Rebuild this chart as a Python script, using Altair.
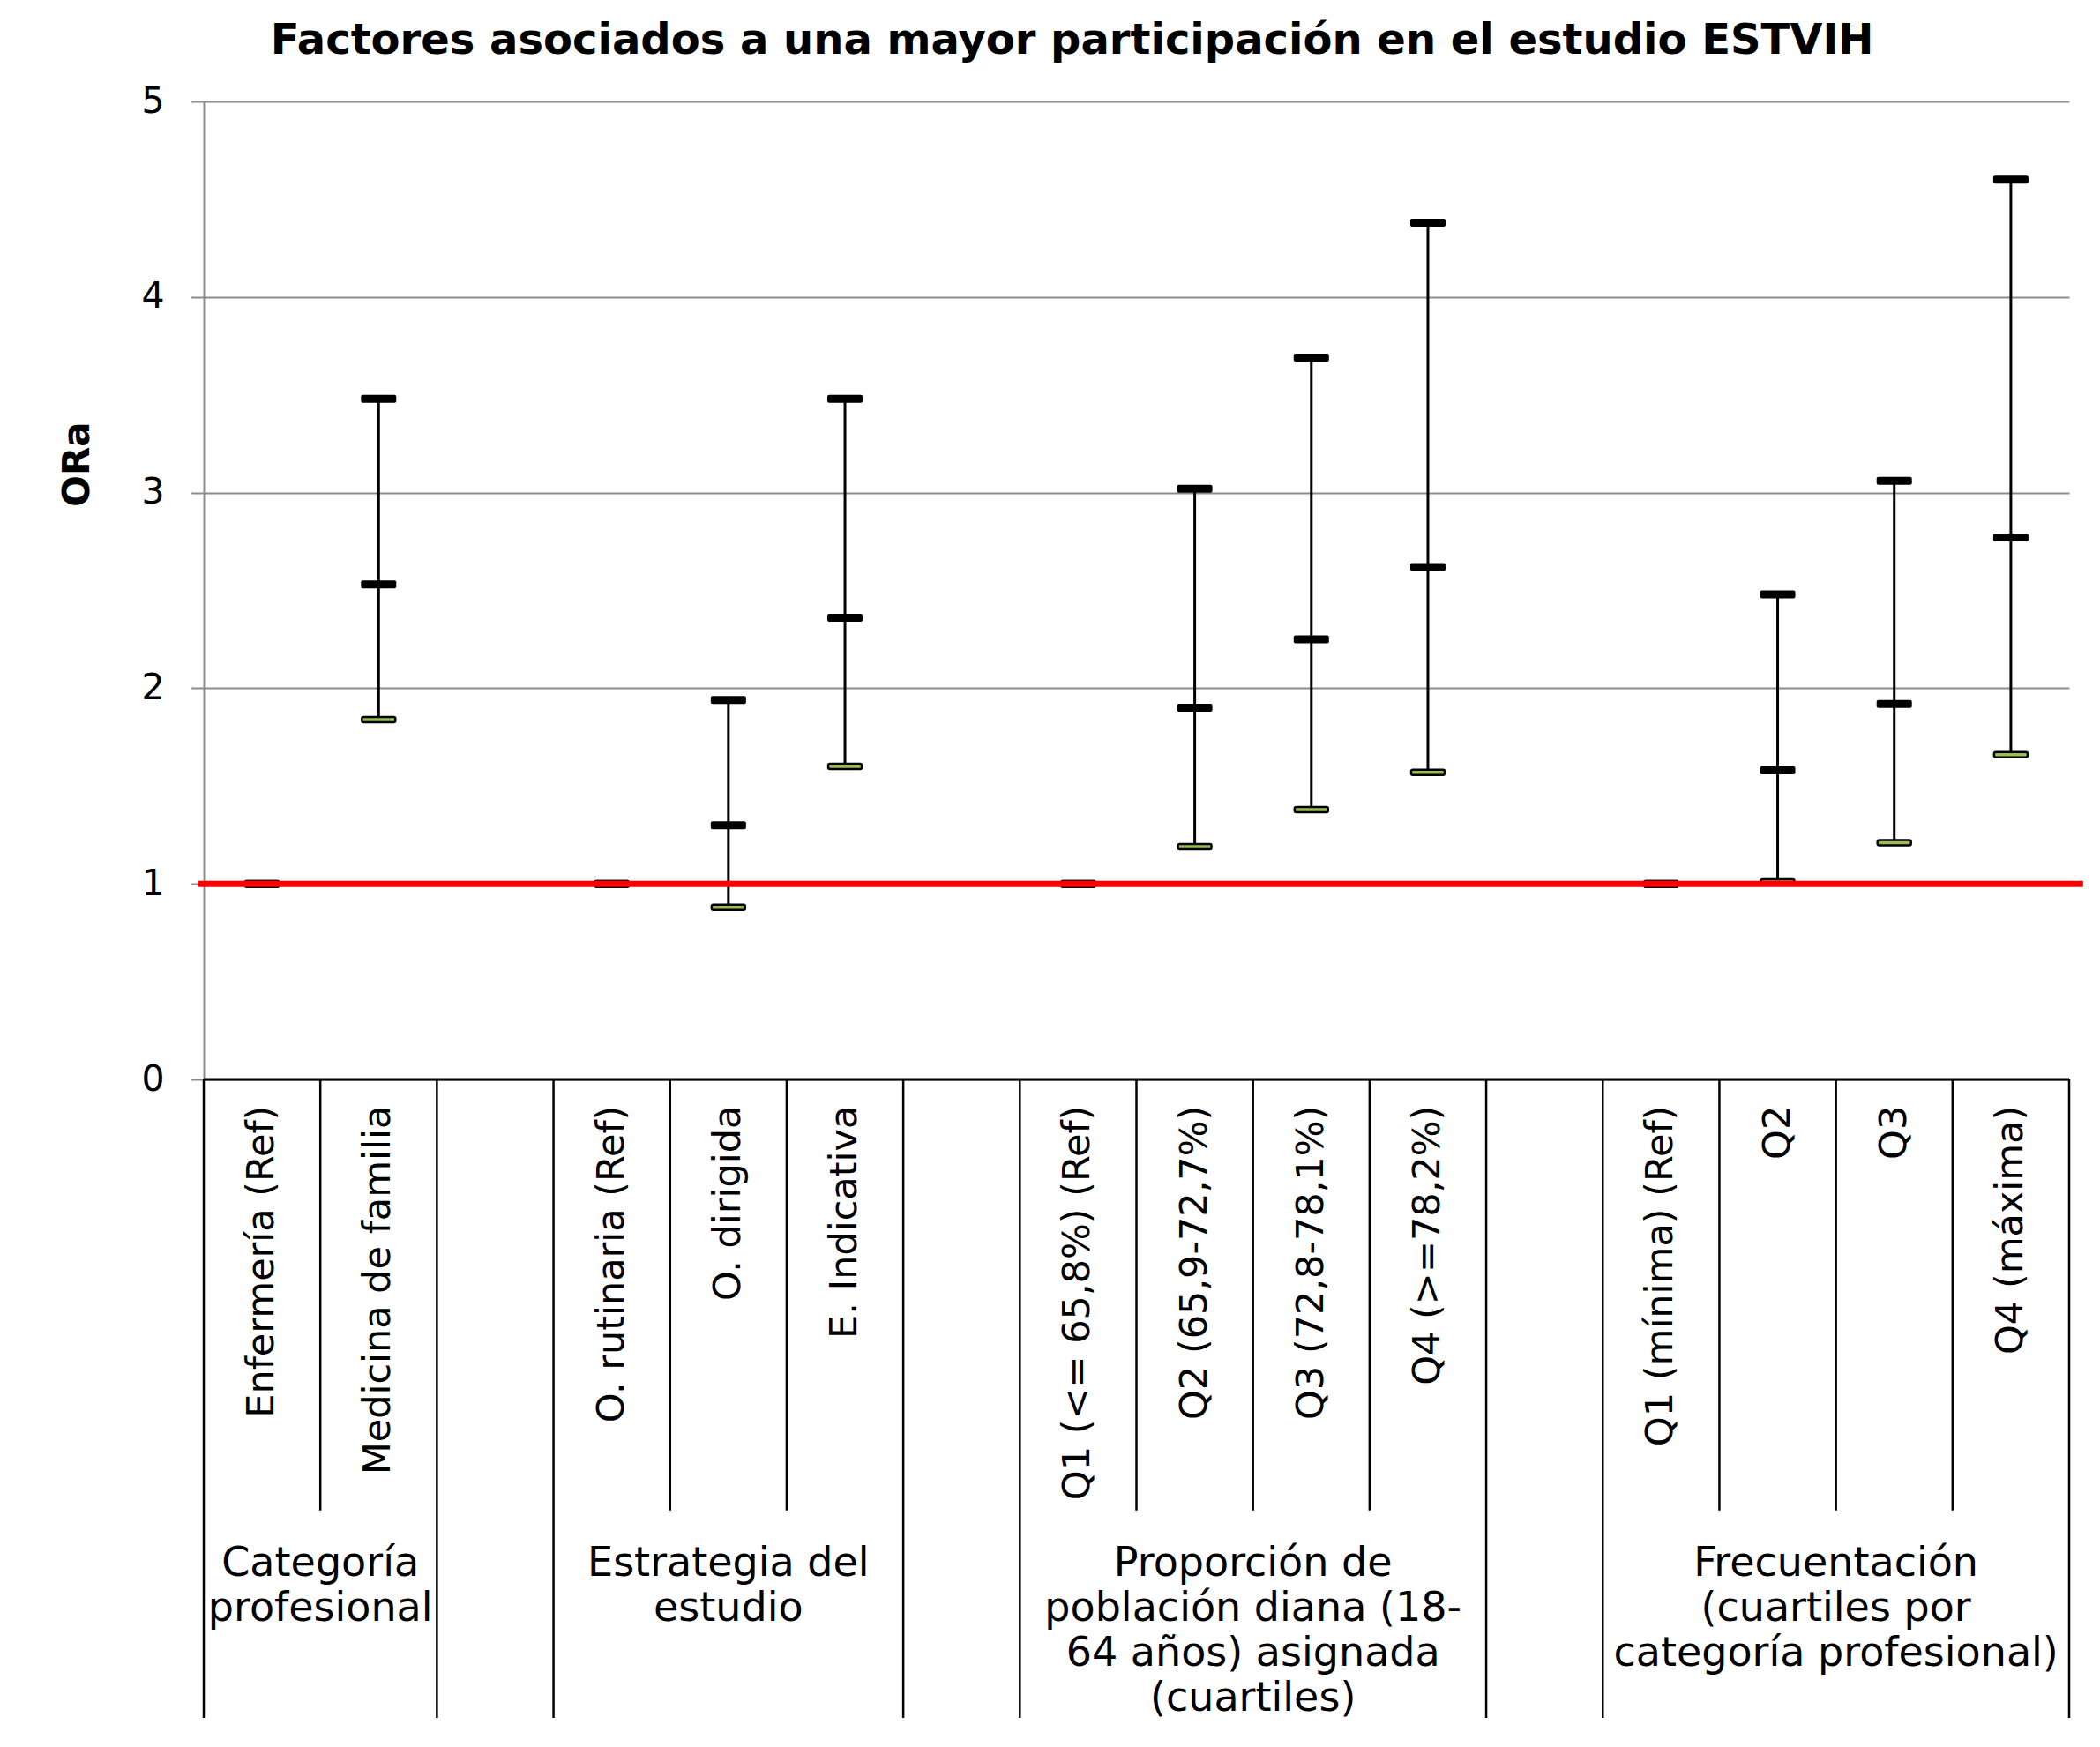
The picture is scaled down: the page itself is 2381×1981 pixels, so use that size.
import altair as alt
import pandas as pd

# ---------------- data ----------------
slot_labels = ["Enfermería (Ref)", "Medicina de familia", "",
               "O. rutinaria (Ref)", "O. dirigida", "E. Indicativa", "",
               "Q1 (<= 65,8%) (Ref)", "Q2 (65,9-72,7%)", "Q3 (72,8-78,1%)", "Q4 (>=78,2%)", "",
               "Q1 (mínima) (Ref)", "Q2", "Q3", "Q4 (máxima)"]
slot_group = [0, 0, -1, 1, 1, 1, -1, 2, 2, 2, 2, -1, 3, 3, 3, 3]
group_labels = ["Categoría\nprofesional",
                "Estrategia del\nestudio",
                "Proporción de\npoblación diana (18-\n64 años) asignada\n(cuartiles)",
                "Frecuentación\n(cuartiles por\ncategoría profesional)"]
ora_high = [1, 3.48, None, 1, 1.94, 3.48, None, 1, 3.02, 3.69, 4.38, None, 1, 2.48, 3.06, 4.60]
ora_mid = [1, 2.53, None, 1, 1.30, 2.36, None, 1, 1.90, 2.25, 2.62, None, 1, 1.58, 1.92, 2.77]
ora_low = [1, 1.84, None, 1, 0.88, 1.60, None, 1, 1.19, 1.38, 1.57, None, 1, 1.01, 1.21, 1.66]
ref_value = 1
y_ticks = [0, 1, 2, 3, 4, 5]

FONT = "DejaVu Sans"
N = len(slot_labels)
W, H_TOP, H_BOT = 2115, 1109, 724
GRID = "#8c8c8c"

# ---------------- tables ----------------
pts = pd.DataFrame({
    "pos": [i + 0.5 for i in range(N)],
    "label": slot_labels,
    "low": ora_low, "mid": ora_mid, "high": ora_high,
})
vals = pts.dropna(subset=["high"])

xs = alt.Scale(domain=[0, N], nice=False, zero=False)
X = alt.X("pos:Q", scale=xs, axis=None)

# ---------------- top panel ----------------
base = alt.Chart(vals).encode(x=X)

whisk = base.mark_rule(color="black", strokeWidth=3).encode(
    y=alt.Y("low:Q", scale=alt.Scale(domain=[0, 5], nice=False),
            axis=alt.Axis(values=y_ticks, format="d", grid=True, gridColor=GRID, gridWidth=2,
                          domainColor=GRID, domainWidth=2, tickColor=GRID, tickWidth=2,
                          tickSize=15, labelFont=FONT, labelFontSize=41, labelColor="black",
                          labelPadding=30, title="ORa", titleFont=FONT, titleFontSize=42,
                          titleFontWeight="bold", titleColor="black", titleAngle=270,
                          titleAlign="center", titleBaseline="middle",
                          titleX=-144, titleY=411)),
    y2="high:Q")

low_t = base.mark_tick(orient="horizontal", fill="#9bbb59", stroke="black", strokeWidth=2.5,
                       thickness=6, size=38, cornerRadius=2, opacity=1).encode(y="low:Q")
mid_t = base.mark_tick(orient="horizontal", color="black", thickness=9, size=40,
                       cornerRadius=2, opacity=1).encode(y="mid:Q")
high_t = base.mark_tick(orient="horizontal", color="black", thickness=9, size=40,
                        cornerRadius=2, opacity=1).encode(y="high:Q")

ref_df = pd.DataFrame({"v": [ref_value], "x0": [-0.05], "x1": [N + 0.12]})
red = alt.Chart(ref_df).mark_rule(color="#ff0000", strokeWidth=7).encode(
    y="v:Q", x=alt.X("x0:Q", scale=xs, axis=None), x2="x1:Q")

zero_df = pd.DataFrame({"v": [0], "x0": [0], "x1": [N]})
zero_line = alt.Chart(zero_df).mark_rule(color="black", strokeWidth=3).encode(
    y="v:Q", x=alt.X("x0:Q", scale=xs, axis=None), x2="x1:Q")

top = alt.layer(whisk, low_t, mid_t, high_t, red, zero_line).properties(width=W, height=H_TOP)

# ---------------- bottom panel (category table) ----------------
ys = alt.Scale(domain=[0, 1], reverse=True, nice=False, zero=False)
ITEM_END = 0.675

lab_df = pts[pts["label"] != ""].copy()
lab_df["ty"] = 0.041
item_text = alt.Chart(lab_df).mark_text(angle=270, align="right", baseline="middle",
                                        font=FONT, fontSize=43, color="black").encode(
    x=X, y=alt.Y("ty:Q", scale=ys, axis=None), text="label:N")

bounds = []
for b in range(N + 1):
    left = slot_group[b - 1] if b > 0 else -2
    right = slot_group[b] if b < N else -3
    same = (left == right) and left >= 0
    bounds.append({"pos": b, "y0": 0.0, "y1": ITEM_END if same else 1.0})
bnd_df = pd.DataFrame(bounds)
seps = alt.Chart(bnd_df).mark_rule(color="black", strokeWidth=2.5).encode(
    x=X, y=alt.Y("y0:Q", scale=ys, axis=None), y2="y1:Q")

grp_rows = []
for g, txt in enumerate(group_labels):
    idx = [i for i, s in enumerate(slot_group) if s == g]
    grp_rows.append({"pos": (min(idx) + max(idx) + 1) / 2, "txt": txt, "ty": 0.728})
grp_df = pd.DataFrame(grp_rows)
grp_text = alt.Chart(grp_df).mark_text(align="center", baseline="top", lineBreak="\n",
                                       lineHeight=51, font=FONT, fontSize=46,
                                       color="black").encode(
    x=X, y=alt.Y("ty:Q", scale=ys, axis=None), text="txt:N")

bottom = alt.layer(seps, item_text, grp_text).properties(width=W, height=H_BOT)

chart = alt.vconcat(top, bottom, spacing=0, bounds="flush").properties(
    title=alt.TitleParams("Factores asociados a una mayor participación en el estudio ESTVIH",
                          font=FONT, fontSize=48, fontWeight="bold", color="black",
                          anchor="middle", offset=23),
    padding={"left": 58, "top": 15, "right": 5, "bottom": 5},
).configure_view(stroke=None).configure_concat(spacing=0)

chart.save("out.html", embed_options={"renderer": "svg", "actions": False})
